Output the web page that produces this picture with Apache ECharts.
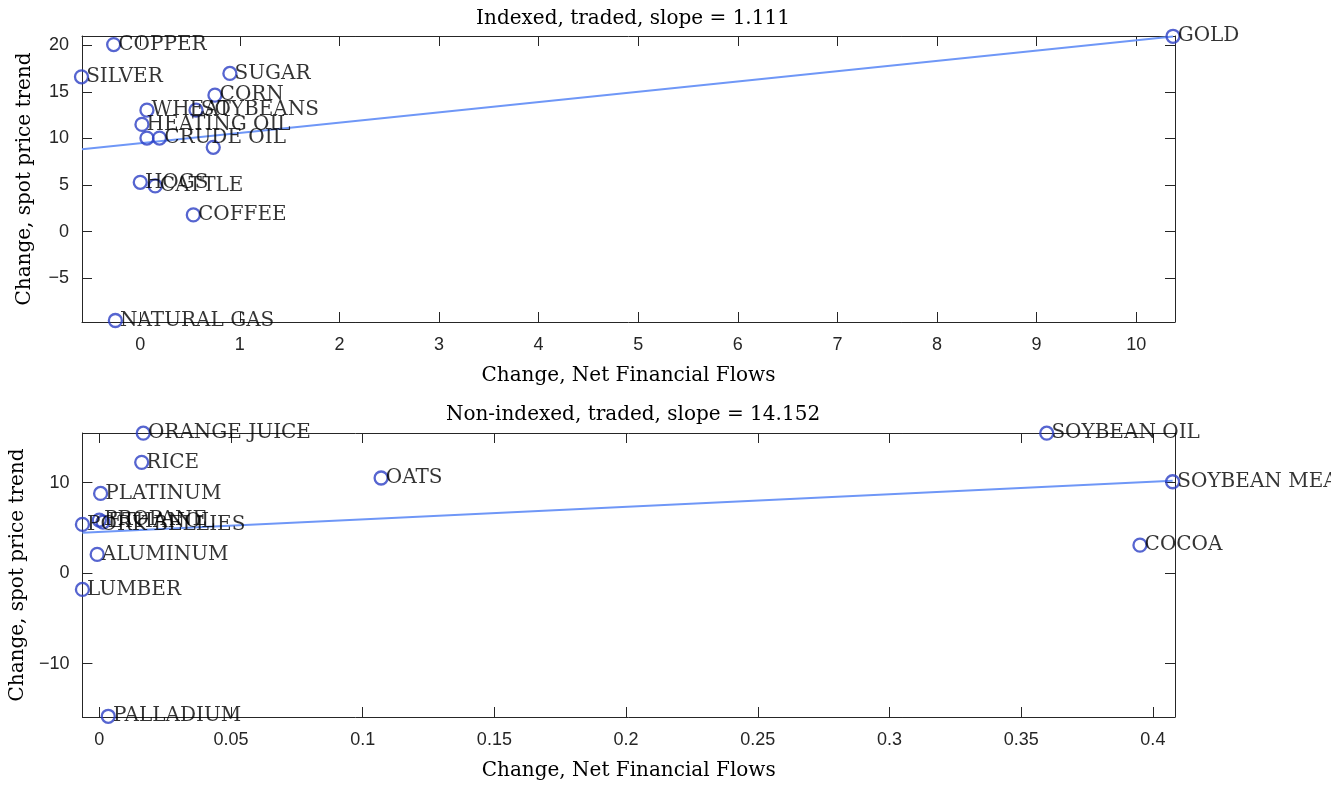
<!DOCTYPE html>
<html>
<head>
<meta charset="utf-8">
<script src="https://cdn.jsdelivr.net/npm/echarts@6/dist/echarts.min.js"></script>
<style>
  html, body { margin: 0; padding: 0; background: #ffffff; }
  #chart { width: 1331px; height: 785px; }
</style>
</head>
<body>
<div id="chart"></div>
<script>
// Indexed, traded commodities
const indexedNames = ['COPPER', 'SILVER', 'SUGAR', 'CORN', 'WHEAT', 'SOYBEANS', 'HEATING OIL', '', 'CRUDE OIL', '', 'HOGS', 'CATTLE', 'COFFEE', 'NATURAL GAS', 'GOLD'];
const indexedFlows = [-0.267, -0.59, 0.90, 0.75, 0.067, 0.56, 0.017, 0.067, 0.193, 0.733, 0.0, 0.15, 0.533, -0.25, 10.37];
const indexedTrend = [20.08, 16.62, 16.98, 14.65, 13.04, 13.04, 11.51, 10.04, 10.04, 9.05, 5.29, 4.9, 1.79, -9.55, 20.97];
const indexedFit = [[-0.585, 8.83], [10.37, 20.95]];

// Non-indexed, traded commodities
const nonIndexedNames = ['ORANGE JUICE', 'RICE', 'PLATINUM', 'PORK BELLIES', 'PROPANE', 'ETHANOL', 'ALUMINUM', 'LUMBER', 'PALLADIUM', 'OATS', 'SOYBEAN OIL', 'SOYBEAN MEAL', 'COCOA'];
const nonIndexedFlows = [0.0167, 0.0161, 0.0005, -0.0064, 0.0, 0.0014, -0.0008, -0.0064, 0.0034, 0.107, 0.3597, 0.4075, 0.3951];
const nonIndexedTrend = [15.45, 12.23, 8.8, 5.38, 5.86, 5.64, 2.07, -1.8, -15.8, 10.5, 15.45, 10.09, 3.09];
const nonIndexedFit = [[-0.0064, 4.45], [0.4075, 10.2]];

const titles = ['Indexed, traded, slope = 1.111', 'Non-indexed, traded, slope = 14.152'];
const xName = 'Change, Net Financial Flows';
const yName = 'Change, spot price trend';

const axisColor = '#262626';
const serif = 'DejaVu Serif';
const sans = 'Liberation Sans';

function pairs(xs, ys, names) {
  return xs.map((x, i) => [x, ys[i], names[i]]);
}
// tick labels use a true minus sign
const tickFmt = v => String(v).replace('-', '\u2212');

function mainX(grid, min, max, split) {
  return {
    type: 'value', gridIndex: grid, position: 'bottom', min: min, max: max, splitNumber: split,
    name: xName, nameLocation: 'middle', nameGap: 44,
    nameTextStyle: { fontFamily: serif, fontSize: 20, color: '#000' },
    axisLine: { show: true, onZero: false, lineStyle: { color: axisColor, width: 1 } },
    axisTick: { show: true, inside: true, length: 10, lineStyle: { color: axisColor } },
    axisLabel: { show: true, margin: 14, fontFamily: sans, fontSize: 18, color: axisColor, showMinLabel: false, showMaxLabel: false, formatter: tickFmt },
    splitLine: { show: false }
  };
}
function mirrorX(grid, min, max, split) {
  return {
    type: 'value', gridIndex: grid, position: 'top', min: min, max: max, splitNumber: split,
    axisLine: { show: true, onZero: false, lineStyle: { color: axisColor, width: 1 } },
    axisTick: { show: true, inside: true, length: 10, lineStyle: { color: axisColor } },
    axisLabel: { show: false }, splitLine: { show: false }
  };
}
function mainY(grid, min, max, split, gap) {
  return {
    type: 'value', gridIndex: grid, position: 'left', min: min, max: max, splitNumber: split,
    name: yName, nameLocation: 'middle', nameGap: gap, nameRotate: 90,
    nameTextStyle: { fontFamily: serif, fontSize: 20, color: '#000' },
    axisLine: { show: true, onZero: false, lineStyle: { color: axisColor, width: 1 } },
    axisTick: { show: true, inside: true, length: 10, lineStyle: { color: axisColor } },
    axisLabel: { show: true, margin: 13, fontFamily: sans, fontSize: 18, color: axisColor, showMinLabel: false, showMaxLabel: false, formatter: tickFmt },
    splitLine: { show: false }
  };
}
function mirrorY(grid, min, max, split) {
  return {
    type: 'value', gridIndex: grid, position: 'right', min: min, max: max, splitNumber: split,
    axisLine: { show: true, onZero: false, lineStyle: { color: axisColor, width: 1 } },
    axisTick: { show: true, inside: true, length: 10, lineStyle: { color: axisColor } },
    axisLabel: { show: false }, splitLine: { show: false }
  };
}

function scatter(ax, data) {
  return {
    type: 'scatter', xAxisIndex: ax, yAxisIndex: ax, data: data, clip: false, z: 3,
    symbol: 'circle', symbolSize: 13,
    itemStyle: { color: 'rgba(0,0,0,0)', borderColor: '#2c3ec4', borderWidth: 2.3 },
    label: {
      show: true, position: 'right', distance: -3,
      formatter: p => p.data[2],
      fontFamily: serif, fontSize: 20, color: '#000'
    },
    emphasis: { disabled: true }
  };
}
function fitLine(ax, data) {
  return {
    type: 'line', xAxisIndex: ax, yAxisIndex: ax, data: data, clip: false, z: 2,
    showSymbol: false, symbol: 'none', silent: true,
    lineStyle: { color: '#6f97f7', width: 2 }
  };
}

const chart = echarts.init(document.getElementById('chart'), null, { renderer: 'canvas' });
chart.setOption({
  animation: false,
  backgroundColor: '#ffffff',
  title: [
    { text: titles[0], left: 628, top: 4, textAlign: 'center',
      textStyle: { fontFamily: serif, fontSize: 20, fontWeight: 'normal', color: '#000' } },
    { text: titles[1], left: 628, top: 400, textAlign: 'center',
      textStyle: { fontFamily: serif, fontSize: 20, fontWeight: 'normal', color: '#000' } }
  ],
  grid: [
    { left: 82, right: 156, top: 36, height: 286 },
    { left: 82, right: 156, top: 433, height: 284 }
  ],
  xAxis: [
    mainX(0, -0.585, 10.39, 10),
    mirrorX(0, -0.585, 10.39, 10),
    mainX(1, -0.0064, 0.4084, 8),
    mirrorX(1, -0.0064, 0.4084, 8)
  ],
  yAxis: [
    mainY(0, -9.71, 21.0, 6, 47),
    mirrorY(0, -9.71, 21.0, 6),
    mainY(1, -15.88, 15.47, 3, 54),
    mirrorY(1, -15.88, 15.47, 3)
  ],
  series: [
    fitLine(0, indexedFit),
    scatter(0, pairs(indexedFlows, indexedTrend, indexedNames)),
    fitLine(2, nonIndexedFit),
    scatter(2, pairs(nonIndexedFlows, nonIndexedTrend, nonIndexedNames))
  ]
});
</script>
</body>
</html>
